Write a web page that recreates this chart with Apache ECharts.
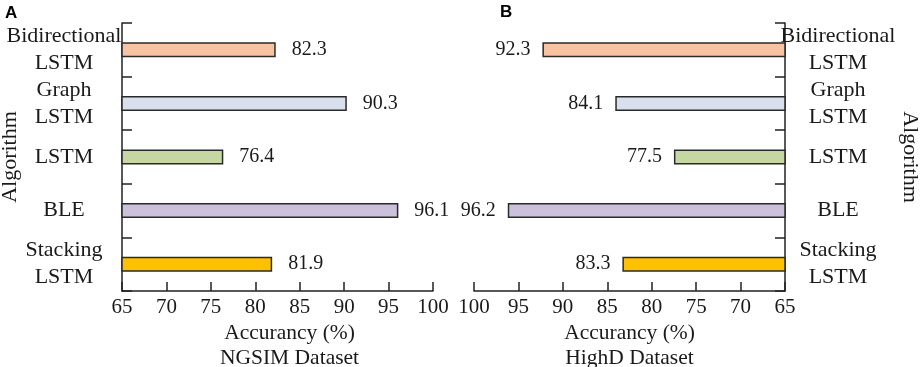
<!DOCTYPE html>
<html><head><meta charset="utf-8">
<script src="https://cdn.jsdelivr.net/npm/echarts@6/dist/echarts.min.js"></script>
<style>html,body{margin:0;padding:0;background:#fff}#c{width:920px;height:367px}</style>
</head><body><div id="c"></div>
<script>
const categories = ['Bidirectional\nLSTM', 'Graph\nLSTM', 'LSTM', 'BLE', 'Stacking\nLSTM'];
const ngsimValues = [82.3, 90.3, 76.4, 96.1, 81.9];
const highdValues = [92.3, 84.1, 77.5, 96.2, 83.3];
const barColors = ['#F8C3A0', '#D7E0EC', '#C6D8A2', '#CCC1DA', '#FFC000'];
const xTicks = { min: 65, max: 100, interval: 5 };
const F = 'Liberation Serif';
const txt = { fontFamily: F, fontSize: 20, color: '#1a1a1a' };
const txtBig = { fontFamily: F, fontSize: 22, color: '#1a1a1a' };

function barData(vals) {
  return vals.map((v, i) => ({ value: v, itemStyle: { color: barColors[i] } }));
}
function xAxisCfg(grid, inverse, name, pad) {
  return {
    type: 'value', gridIndex: grid, min: xTicks.min, max: xTicks.max, interval: xTicks.interval,
    inverse: inverse,
    axisLine: { show: true, lineStyle: { color: '#222', width: 1.5 } },
    axisTick: { show: true, inside: true, length: 9, lineStyle: { color: '#222', width: 1.5 } },
    axisLabel: Object.assign({ margin: 6 }, txt, { fontSize: 21 }),
    splitLine: { show: false },
    name: name, nameLocation: 'middle', nameGap: 55, nameMoveOverlap: false,
    nameTextStyle: Object.assign({ lineHeight: 25, verticalAlign: 'middle', padding: pad }, txt, { fontSize: 21.5 })
  };
}
function yAxisCfg(grid, pos, rot, gap) {
  return {
    type: 'category', gridIndex: grid, data: categories, inverse: true, position: pos,
    axisLine: { show: true, lineStyle: { color: '#222', width: 1.5 } },
    axisTick: { show: true, inside: true, length: 10, lineStyle: { color: '#222', width: 1.5 } },
    axisLabel: Object.assign({ interval: 0, hideOverlap: false, margin: pos === 'left' ? 58 : 53, align: 'center', lineHeight: 27, padding: [4, 0, 0, 0] }, txtBig),
    name: 'Algorithm', nameLocation: 'middle', nameGap: gap, nameRotate: rot, nameMoveOverlap: false,
    nameTextStyle: Object.assign({ verticalAlign: 'middle' }, txtBig)
  };
}
const chart = echarts.init(document.getElementById('c'), null, { renderer: 'canvas' });
chart.setOption({
  animation: false,
  backgroundColor: '#fff',
  title: [
    { text: 'A', left: 0, top: 0, textStyle: { fontFamily: 'Liberation Sans', fontWeight: 'bold', fontSize: 17, color: '#000' } },
    { text: 'B', left: 495, top: -1, textStyle: { fontFamily: 'Liberation Sans', fontWeight: 'bold', fontSize: 17, color: '#000' } }
  ],
  grid: [
    { left: 122, width: 311, top: 23, height: 268, containLabel: false, outerBoundsMode: 'none' },
    { left: 474, width: 311, top: 23, height: 268, containLabel: false, outerBoundsMode: 'none' }
  ],
  xAxis: [
    xAxisCfg(0, false, 'Accurancy (%)\nNGSIM Dataset', [0, 0, 0, 24]),
    xAxisCfg(1, true, 'Accurancy (%)\nHighD Dataset', [0, 0, 0, 0])
  ],
  yAxis: [
    yAxisCfg(0, 'left', 90, 112),
    yAxisCfg(1, 'right', -90, 125)
  ],
  series: [
    { type: 'bar', xAxisIndex: 0, yAxisIndex: 0, data: barData(ngsimValues), barWidth: 15,
      itemStyle: { borderColor: '#2a2a2a', borderWidth: 1.5 },
      label: Object.assign({ show: true, position: 'right', distance: 16 }, txt) },
    { type: 'bar', xAxisIndex: 1, yAxisIndex: 1, data: barData(highdValues), barWidth: 15,
      itemStyle: { borderColor: '#2a2a2a', borderWidth: 1.5 },
      label: Object.assign({ show: true, position: 'left', distance: 12 }, txt) }
  ]
});
</script></body></html>
